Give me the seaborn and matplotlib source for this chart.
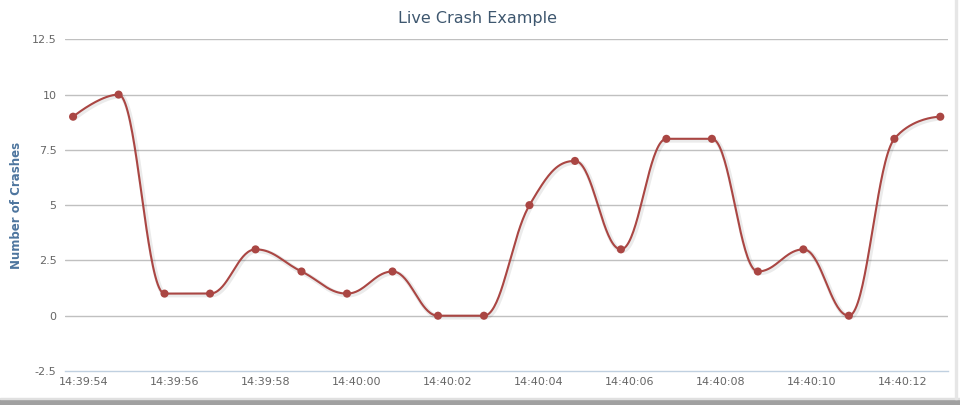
# Live crash counts, drawn as a Highcharts-like spline.
import numpy as np
import pandas as pd
import matplotlib
matplotlib.use("Agg")
import matplotlib.pyplot as plt
import matplotlib.patheffects as pe
from matplotlib.patches import Rectangle
from matplotlib.ticker import FixedLocator, FixedFormatter
import seaborn as sns

# data
times = ["14:39:53.76", "14:39:54.76", "14:39:55.77", "14:39:56.77", "14:39:57.77",
         "14:39:58.78", "14:39:59.78", "14:40:00.78", "14:40:01.78", "14:40:02.79",
         "14:40:03.79", "14:40:04.79", "14:40:05.80", "14:40:06.80", "14:40:07.80",
         "14:40:08.81", "14:40:09.81", "14:40:10.81", "14:40:11.81", "14:40:12.82"]
crashes = [9, 10, 1, 1, 3, 2, 1, 2, 0, 0, 5, 7, 3, 8, 8, 2, 3, 0, 8, 9]
tick_labels = ["14:39:54", "14:39:56", "14:39:58", "14:40:00", "14:40:02",
               "14:40:04", "14:40:06", "14:40:08", "14:40:10", "14:40:12"]
y_ticks = [-2.5, 0, 2.5, 5, 7.5, 10, 12.5]

LINE = "#AA4643"


def to_sec(s):
    h, m, sec = s.split(":")
    return int(h) * 3600 + int(m) * 60 + float(sec)


def spline_controls(x, y, smoothing=1.5):
    # Highcharts spline control points
    n = len(x)
    left = [None] * n
    right = [None] * n
    denom = smoothing + 1
    for i in range(n):
        px, py = x[i], y[i]
        if 0 < i < n - 1:
            lx, ly = x[i - 1], y[i - 1]
            nx, ny = x[i + 1], y[i + 1]
            lcx = (smoothing * px + lx) / denom
            lcy = (smoothing * py + ly) / denom
            rcx = (smoothing * px + nx) / denom
            rcy = (smoothing * py + ny) / denom
            if rcx != lcx:
                corr = ((rcy - lcy) * (rcx - px)) / (rcx - lcx) + py - rcy
                lcy += corr
                rcy += corr
            if lcy > ly and lcy > py:
                lcy = max(ly, py)
                rcy = 2 * py - lcy
            elif lcy < ly and lcy < py:
                lcy = min(ly, py)
                rcy = 2 * py - lcy
            if rcy > ny and rcy > py:
                rcy = max(ny, py)
                lcy = 2 * py - rcy
            elif rcy < ny and rcy < py:
                rcy = min(ny, py)
                lcy = 2 * py - rcy
            left[i] = (lcx, lcy)
            right[i] = (rcx, rcy)
        else:
            left[i] = (px, py)
            right[i] = (px, py)
    return left, right


def sample_spline(x, y, steps=40):
    left, right = spline_controls(x, y)
    xs, ys = [], []
    t = np.linspace(0, 1, steps)
    for i in range(1, len(x)):
        p0 = np.array([x[i - 1], y[i - 1]])
        p1 = np.array(right[i - 1])
        p2 = np.array(left[i])
        p3 = np.array([x[i], y[i]])
        pts = ((1 - t) ** 3)[:, None] * p0 + (3 * (1 - t) ** 2 * t)[:, None] * p1 \
            + (3 * (1 - t) * t ** 2)[:, None] * p2 + (t ** 3)[:, None] * p3
        xs.extend(pts[:, 0])
        ys.extend(pts[:, 1])
    return np.array(xs), np.array(ys)


sns.set_theme(style="white")
plt.rcParams["font.family"] = ["DejaVu Sans"]

base = to_sec("14:39:00")
x = [to_sec(t) - base for t in times]
df = pd.DataFrame({"t": x, "crashes": crashes})
sx, sy = sample_spline(df["t"].tolist(), df["crashes"].tolist())
curve = pd.DataFrame({"t": sx, "crashes": sy})

fig = plt.figure(figsize=(9.6, 4.05), dpi=100)
ax = fig.add_axes([65 / 960, 1 - 371 / 405, (948 - 65) / 960, (371 - 39.3) / 405])

# grid
for v in y_ticks[1:]:
    ax.axhline(v, color="#C0C0C0", lw=1, zorder=0)

sns.lineplot(data=curve, x="t", y="crashes", sort=False, estimator=None,
             color=LINE, lw=1.5, ax=ax, zorder=3,
             path_effects=[pe.SimpleLineShadow(offset=(1, -1), shadow_color="black",
                                               alpha=0.08, linewidth=3.5),
                           pe.Normal()])
sns.scatterplot(data=df, x="t", y="crashes", color=LINE, s=34, edgecolor="none",
                ax=ax, zorder=4)

tick_pos = [to_sec(s) - base for s in tick_labels]
ax.set_xlim(tick_pos[0] - 19 / 45.5, tick_pos[0] + (948 - 84) / 45.5)
ax.set_ylim(-2.5, 12.5)
ax.xaxis.set_major_locator(FixedLocator(tick_pos))
ax.xaxis.set_major_formatter(FixedFormatter(tick_labels))
ax.set_yticks(y_ticks)
ax.set_yticklabels(["-2.5", "0", "2.5", "5", "7.5", "10", "12.5"])

for s in ["top", "right", "left"]:
    ax.spines[s].set_visible(False)
ax.spines["bottom"].set_color("#C0D0E0")
ax.spines["bottom"].set_linewidth(1)
ax.tick_params(axis="x", direction="out", length=4, width=1, color="#C0D0E0",
               labelsize=8, labelcolor="#666666", pad=0)
ax.tick_params(axis="y", length=0, labelsize=8, labelcolor="#666666", pad=6)
ax.set_xlabel("")
ax.set_ylabel("Number of Crashes", color="#4D759E", fontsize=8.5, fontweight="bold")
ax.yaxis.set_label_coords((23 - 65) / 883, 0.5)
fig.text(478 / 960, 1 - 18 / 405, "Live Crash Example", color="#3E576F",
         fontsize=11.5, ha="center", va="center")

# window frame bits
fig.patches.append(Rectangle((0, 0), 1, 6 / 405, transform=fig.transFigure,
                             color="#A0A0A0", zorder=10))
fig.patches.append(Rectangle((0, 6 / 405), 1, 1.5 / 405, transform=fig.transFigure,
                             color="#E0E0E0", zorder=10))
fig.patches.append(Rectangle((955 / 960, 6 / 405), 2 / 960, 1, transform=fig.transFigure,
                             color="#E6E6E6", zorder=10))

fig.savefig("out.png", dpi=100)
